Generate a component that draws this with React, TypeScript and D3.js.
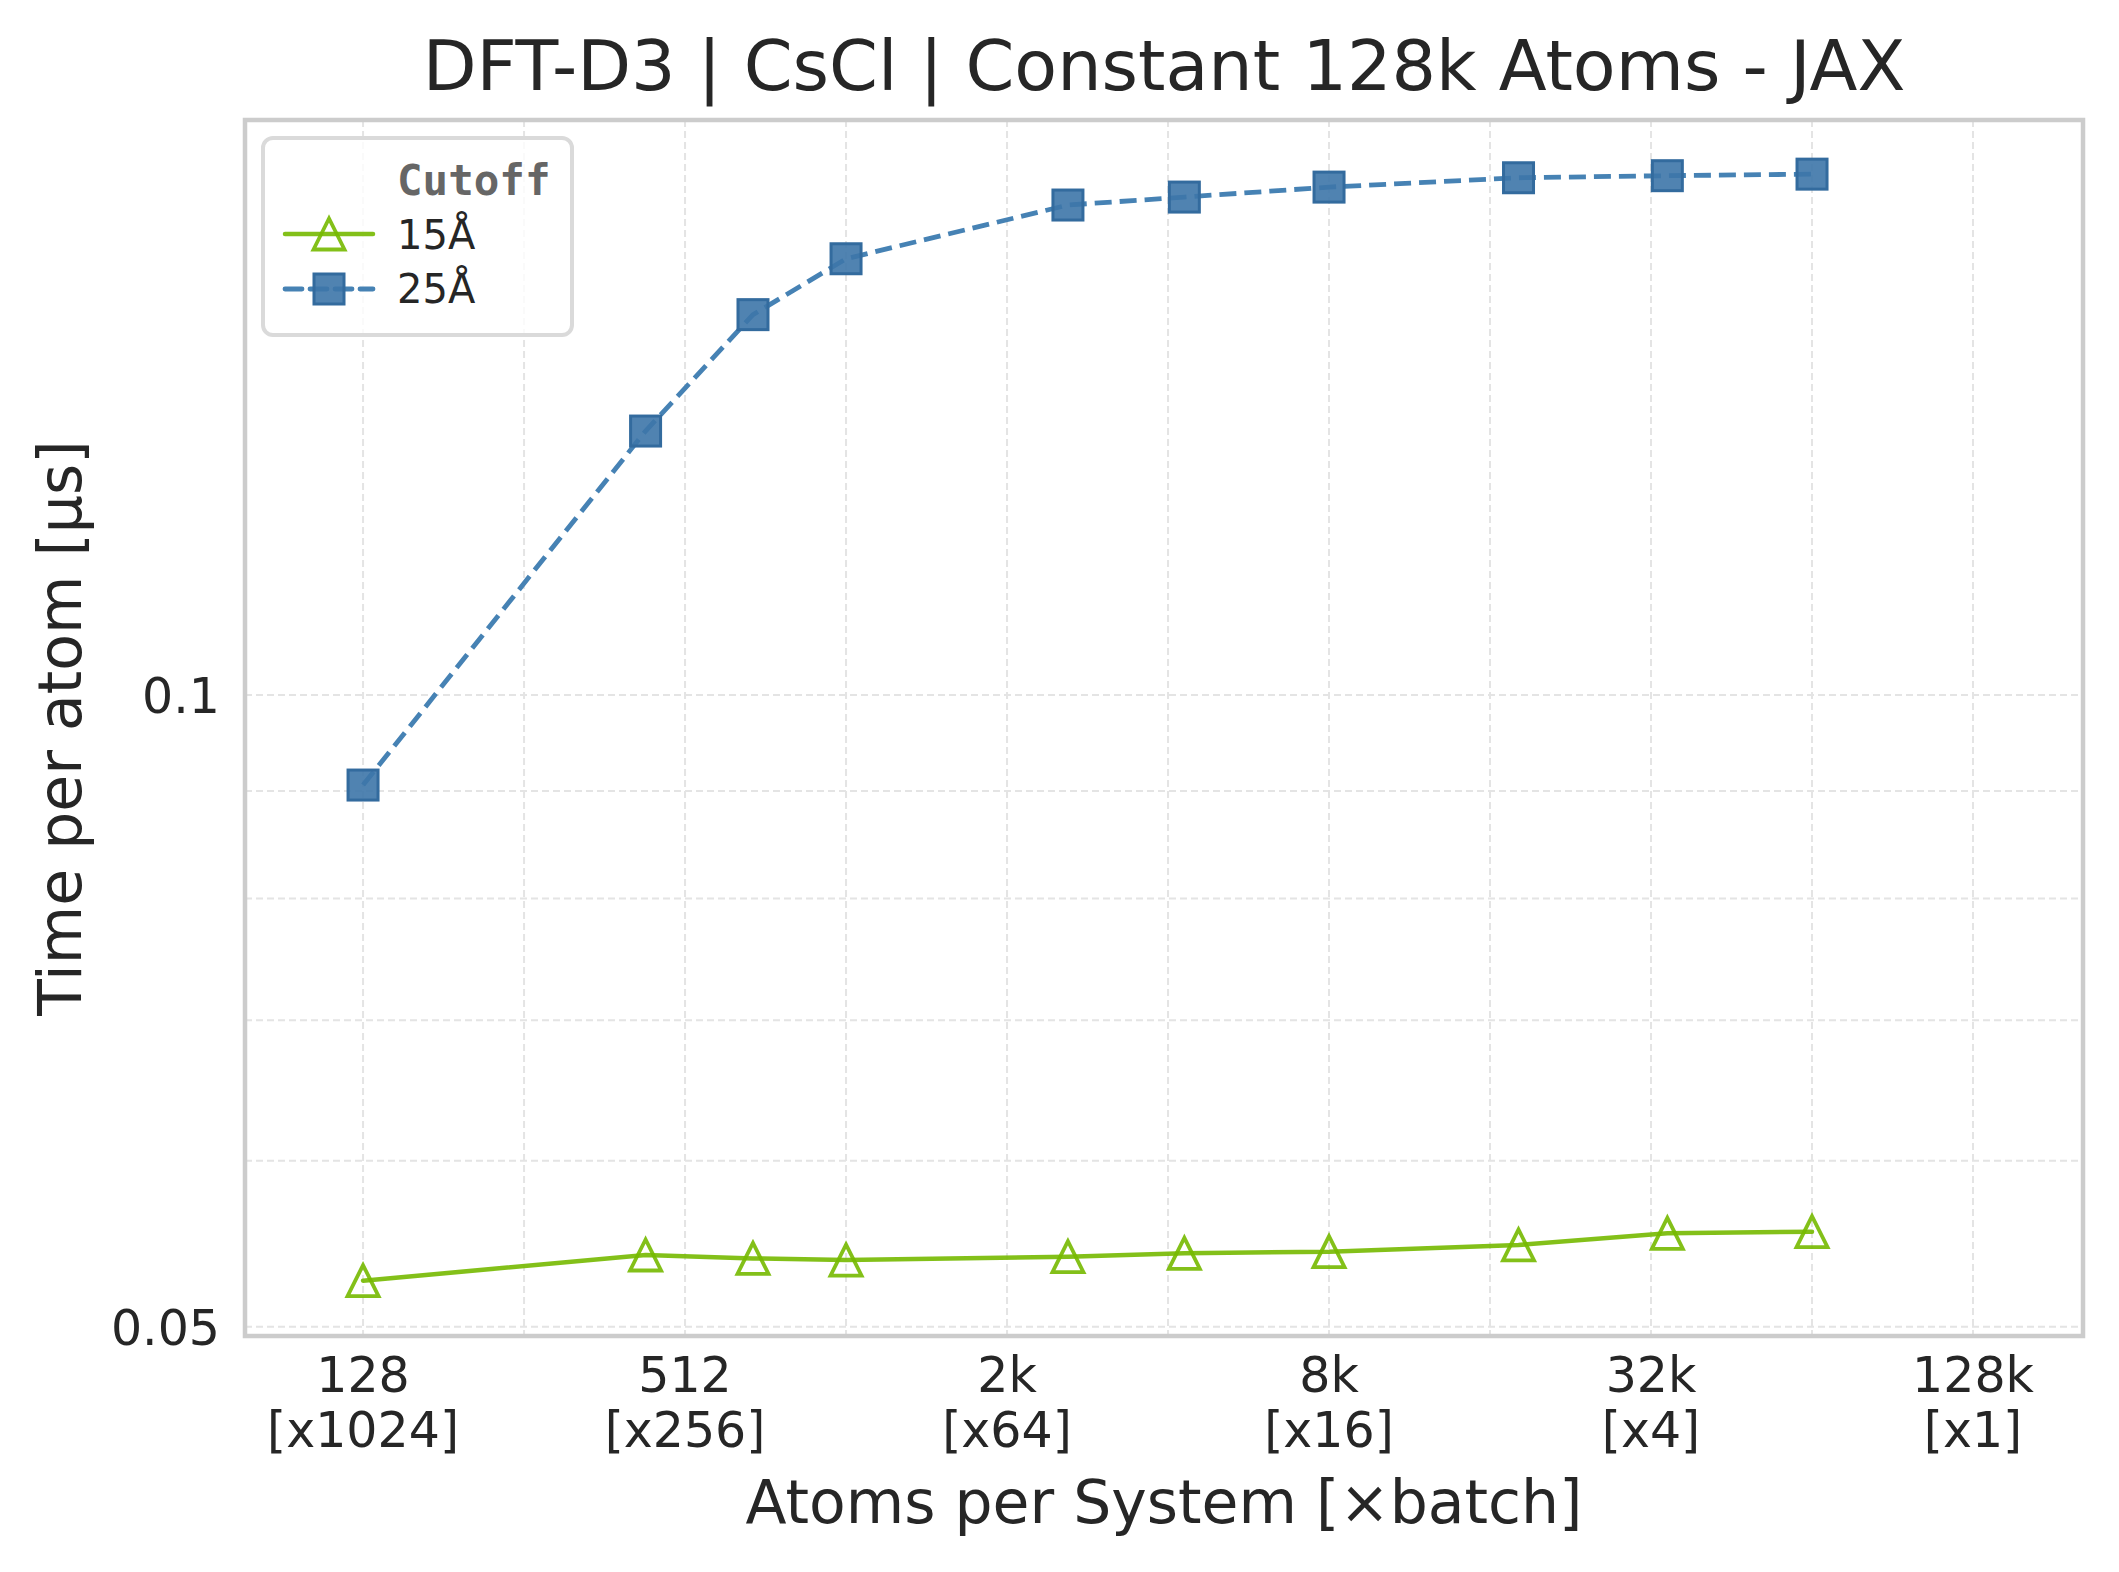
import React from 'react';
import * as d3 from 'd3';

// atoms per system (CsCl supercells), constant 128k atoms in total
const atoms = [128, 432, 686, 1024, 2662, 4394, 8192, 18522, 35152, 65536];
const time15 = [0.0526, 0.0541, 0.0539, 0.0538, 0.0540, 0.0542, 0.0543, 0.0547, 0.0554, 0.0555];
const time25 = [0.0906, 0.1336, 0.1518, 0.1614, 0.1712, 0.1727, 0.1746, 0.1764, 0.1768, 0.1771];

const xTicks = [128, 512, 2048, 8192, 32768, 131072];
const xTickTop = ['128', '512', '2k', '8k', '32k', '128k'];
const xTickBottom = ['[x1024]', '[x256]', '[x64]', '[x16]', '[x4]', '[x1]'];
const xMinor = [256, 1024, 4096, 16384, 65536];
const yTicks = [0.05, 0.1];
const yTickLabels = ['0.05', '0.1'];
const yMinor = [0.06, 0.07, 0.08, 0.09];

const W = 2119;
const H = 1572;
const margin = { top: 120, right: 36, bottom: 236, left: 245 };

const font = '"DejaVu Sans", sans-serif';
const textColor = '#262626';
const green = '#76b900';
const blue = '#4682b4';
const blueFill = '#3d76a9';
const blueEdge = '#336b9e';

const App: React.FC = () => {
    const x = d3.scaleLog().base(2)
        .domain([77, 210445])
        .range([margin.left, W - margin.right]);
    const y = d3.scaleLog()
        .domain([0.0495, 0.18794])
        .range([H - margin.bottom, margin.top]);

    const line = d3.line<number>()
        .x((d, i) => x(atoms[i]))
        .y(d => y(d));

    const x0 = margin.left, x1 = W - margin.right;
    const y0 = margin.top, y1 = H - margin.bottom;

    const tri = (s: number) => `M0,${-s}L${-s},${s}L${s},${s}Z`;

    return (
        <div style={{ position: 'absolute', left: 0, top: 0 }}>
            <svg width={W} height={H} style={{ display: 'block', background: '#fff' }}>
                {/* grid */}
                <g stroke="#e4e4e4" strokeWidth={2} strokeDasharray="7 4" fill="none">
                    {[...xTicks, ...xMinor].map(t => (
                        <line key={'gx' + t} x1={x(t)} x2={x(t)} y1={y0} y2={y1} />
                    ))}
                    {[...yTicks, ...yMinor].map(t => (
                        <line key={'gy' + t} x1={x0} x2={x1} y1={y(t)} y2={y(t)} />
                    ))}
                </g>

                {/* 15 A */}
                <path d={line(time15) || ''} fill="none" stroke={green} strokeOpacity={0.9}
                      strokeWidth={4.5} strokeLinejoin="round" strokeLinecap="round" />
                {time15.map((v, i) => (
                    <path key={'m15' + i} d={tri(15.5)} transform={`translate(${x(atoms[i])},${y(v)})`}
                          fill="none" stroke={green} strokeOpacity={0.9} strokeWidth={3.8} />
                ))}

                {/* 25 A */}
                <path d={line(time25) || ''} fill="none" stroke={blue} strokeWidth={4.8}
                      strokeDasharray="17 8" />
                {time25.map((v, i) => (
                    <rect key={'m25' + i} x={x(atoms[i]) - 15} y={y(v) - 15} width={30} height={30}
                          fill={blueFill} fillOpacity={0.9} stroke={blueEdge} strokeWidth={3} />
                ))}

                {/* frame */}
                <rect x={x0} y={y0} width={x1 - x0} height={y1 - y0} fill="none"
                      stroke="#cccccc" strokeWidth={4.5} />

                {/* x tick labels */}
                <g fontFamily={font} fontSize={49} fill={textColor} textAnchor="middle">
                    {xTicks.map((t, i) => (
                        <g key={'xt' + t}>
                            <text x={x(t)} y={1392}>{xTickTop[i]}</text>
                            <text x={x(t)} y={1447}>{xTickBottom[i]}</text>
                        </g>
                    ))}
                </g>

                {/* y tick labels */}
                <g fontFamily={font} fontSize={49} fill={textColor} textAnchor="end">
                    {yTicks.map((t, i) => (
                        <text key={'yt' + t} x={220} y={y(t) + 18}>{yTickLabels[i]}</text>
                    ))}
                </g>

                {/* axis labels and title */}
                <text x={(x0 + x1) / 2} y={1523} textAnchor="middle" fontFamily={font}
                      fontSize={60} fill={textColor}>Atoms per System [×batch]</text>
                <text transform={`translate(81,${(y0 + y1) / 2}) rotate(-90)`} textAnchor="middle"
                      fontFamily={font} fontSize={60} fill={textColor}>Time per atom [µs]</text>
                <text x={(x0 + x1) / 2} y={90} textAnchor="middle" fontFamily={font}
                      fontSize={70} fill={textColor}>DFT-D3 | CsCl | Constant 128k Atoms - JAX</text>

                {/* legend */}
                <g>
                    <rect x={263} y={138} width={309} height={197} rx={10} ry={10}
                          fill="#fff" fillOpacity={0.8} stroke="#dadada" strokeWidth={4} />
                    <text x={397} y={195} fontFamily='"DejaVu Sans Mono", monospace' fontWeight="bold"
                          fontSize={42.5} fill="#666666">Cutoff</text>
                    <line x1={285} x2={373} y1={234} y2={234} stroke={green} strokeOpacity={0.9}
                          strokeWidth={4.5} strokeLinecap="round" />
                    <path d={tri(15.5)} transform="translate(329,234)" fill="none" stroke={green}
                          strokeOpacity={0.9} strokeWidth={3.8} />
                    <text x={397} y={249} fontFamily={font} fontSize={40} fill={textColor}>15Å</text>
                    <line x1={285} x2={373} y1={289} y2={289} stroke={blue} strokeWidth={4.8}
                          strokeDasharray="17 8" strokeLinecap="round" />
                    <rect x={314} y={274} width={30} height={30} fill={blueFill} fillOpacity={0.9}
                          stroke={blueEdge} strokeWidth={3} />
                    <text x={397} y={303} fontFamily={font} fontSize={40} fill={textColor}>25Å</text>
                </g>
            </svg>
        </div>
    );
};

export default App;
